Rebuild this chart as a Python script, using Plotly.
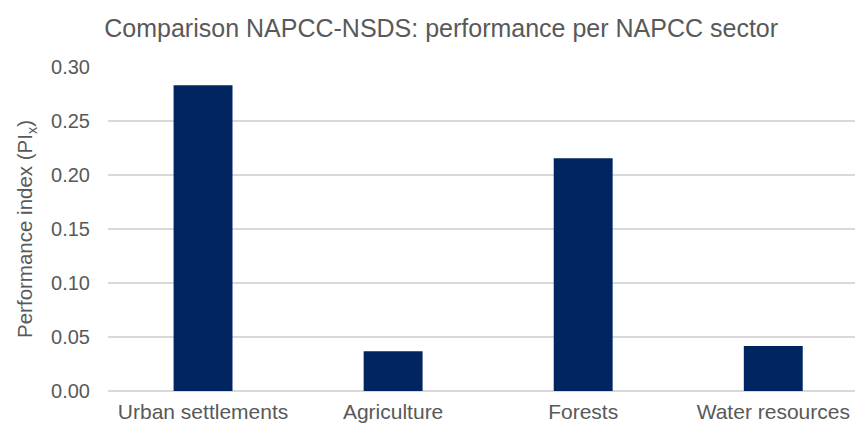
import plotly.graph_objects as go

categories = ["Urban settlements", "Agriculture", "Forests", "Water resources"]
values = [0.283, 0.0368, 0.2155, 0.0417]
y_ticks = [0.00, 0.05, 0.10, 0.15, 0.20, 0.25, 0.30]
y_tick_labels = ["0.00", "0.05", "0.10", "0.15", "0.20", "0.25", "0.30"]

fig = go.Figure(go.Bar(x=categories, y=values, marker_color="#002561",
                       marker_line_width=0, width=0.31))

fig.update_layout(
    width=855, height=426,
    margin=dict(l=108, r=0, t=67, b=35),
    paper_bgcolor="white", plot_bgcolor="white",
    font=dict(family="Liberation Sans, Arial, sans-serif", color="#595959", size=20),
    title=dict(text="Comparison NAPCC-NSDS: performance per NAPCC sector",
               x=0.516, xanchor="center", y=0.934, yanchor="middle",
               font=dict(size=25, color="#595959")),
    showlegend=False,
)
fig.update_xaxes(range=[-0.5, 3.43], showgrid=False, showline=False,
                 ticks="", tickfont=dict(size=21, color="#595959"),
                 ticklabelstandoff=6)
fig.update_yaxes(range=[0, 0.30], tickvals=y_ticks, ticktext=y_tick_labels,
                 showgrid=True, gridcolor="#d9d9d9", gridwidth=1.5,
                 zeroline=True, zerolinecolor="#d9d9d9", zerolinewidth=1.5,
                 showline=False, ticks="", tickfont=dict(size=20, color="#595959"),
                 ticklabelstandoff=17,
                 title=dict(text="Performance index (PI<sub>x</sub>)", standoff=12,
                            font=dict(size=20.5, color="#595959")))

fig.write_html("out.html")
